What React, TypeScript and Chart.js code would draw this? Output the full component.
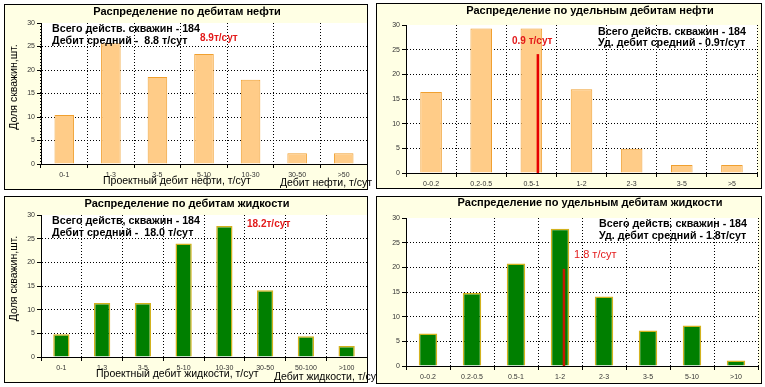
import React, { useEffect, useRef } from "react";
import { Chart, registerables } from "chart.js";

Chart.register(...registerables);

// ---------- data ----------
const oilCategories = ["0-1", "1-3", "3-5", "5-10", "10-30", "30-50", ">50"];
const oilValues = [10.4, 25.7, 18.5, 23.4, 17.9, 2.3, 2.3];

const oilSpecCategories = ["0-0.2", "0.2-0.5", "0.5-1", "1-2", "2-3", "3-5", ">5"];
const oilSpecValues = [16.4, 29.3, 29.3, 17.0, 4.9, 1.6, 1.6];

const liqCategories = ["0-1", "1-3", "3-5", "5-10", "10-30", "30-50", "50-100", ">100"];
const liqValues = [4.8, 11.4, 11.4, 24.0, 27.7, 14.1, 4.4, 2.3];

const liqSpecCategories = ["0-0.2", "0.2-0.5", "0.5-1", "1-2", "2-3", "3-5", "5-10", ">10"];
const liqSpecValues = [6.6, 14.8, 20.8, 27.8, 14.1, 7.2, 8.2, 1.1];

const yMin = 0;
const yMax = 30;
const yStep = 5;

// mean markers (red lines) for specific-rate charts
const oilSpecMeanCategory = "0.5-1";
const oilSpecMeanShift = 0.13; // fraction of a category to the right of the bar centre
const oilSpecMeanHeight = 24.1;
const liqSpecMeanCategory = "1-2";
const liqSpecMeanShift = 0.09;
const liqSpecMeanHeight = 19.7;

// ---------- texts ----------
const titleOil = "Распределение по дебитам нефти";
const titleOilSpec = "Распределение по удельным дебитам нефти";
const titleLiq = "Распределение по дебитам жидкости";
const titleLiqSpec = "Распределение по удельным дебитам жидкости";
const yTitle = "Доля скважин,шт.";
const wellsOil = "Всего действ. скважин - 184";
const wellsLiq = "Всего действ, скважин - 184";
const wellsLiqSpec = "Всего действ. скважин - 184";
const meanOil = "Дебит средний -  8.8 т/сут";
const meanOilRed = "8.9т/сут";
const meanOilSpec = "Уд. дебит средний - 0.9т/сут";
const meanOilSpecRed = "0.9 т/сут";
const meanLiq = "Дебит средний -  18.0 т/сут";
const meanLiqRed = "18.2т/сут";
const meanLiqSpec = "Уд. дебит средний - 1.8т/сут";
const meanLiqSpecRed = "1.8 т/сут";
const xTitleOilProj = "Проектный дебит нефти, т/сут";
const xTitleOil = "Дебит нефти, т/сут";
const xTitleLiqProj = "Проектный дебит жидкости, т/сут";
const xTitleLiq = "Дебит жидкости, т/сут";

// ---------- styling ----------
const FAMILY = '"Liberation Sans", Arial, sans-serif';
const PANEL_BG = "#FFFFE4";
const RED = "#E31A1A";
const ORANGE_FILL = "#FFCC88";
const ORANGE_BORDER = "#F0A030";
const GREEN_FILL = "#007F00";
const GREEN_BORDER = "#D2B21E";

type TextItem = {
  text: string;
  x: number;
  y: number;
  font: string;
  color?: string;
  align?: CanvasTextAlign;
  rotate?: boolean;
};

type Marker = { category: string; shift: number; height: number; color: string; width: number };

type PanelSpec = {
  left: number;
  top: number;
  width: number;
  height: number;
  frame: [number, number, number, number];
  plot: [number, number, number, number];
  categories: string[];
  values: number[];
  fill: string;
  border: string;
  borderWidth: number;
  barPct: number;
  marker?: Marker;
  texts: TextItem[];
  hideLastV: boolean;
};

const bold11 = `bold 11px ${FAMILY}`;
const boldNote = `bold 10.7px ${FAMILY}`;
const bold10 = `bold 10px ${FAMILY}`;
const reg = `10.5px ${FAMILY}`;

const panels: PanelSpec[] = [
  {
    left: 0, top: 0, width: 376, height: 194,
    frame: [4.5, 4.5, 367.5, 189.5],
    plot: [41, 23, 367, 164],
    categories: oilCategories, values: oilValues,
    fill: ORANGE_FILL, border: ORANGE_BORDER, borderWidth: 1, barPct: 0.42,
    hideLastV: true,
    texts: [
      { text: titleOil, x: 187, y: 11.5, font: bold11, align: "center" },
      { text: wellsOil, x: 52, y: 29, font: boldNote },
      { text: meanOil, x: 52, y: 41, font: boldNote },
      { text: meanOilRed, x: 200, y: 38.5, font: bold10, color: RED },
      { text: yTitle, x: 14, y: 87, font: reg, align: "center", rotate: true },
      { text: xTitleOilProj, x: 103, y: 181, font: reg },
      { text: xTitleOil, x: 280, y: 183, font: reg },
    ],
  },
  {
    left: 376, top: 0, width: 389, height: 194,
    frame: [0.5, 3.5, 385.5, 188.5],
    plot: [30, 25, 381, 173],
    categories: oilSpecCategories, values: oilSpecValues,
    fill: ORANGE_FILL, border: ORANGE_BORDER, borderWidth: 1, barPct: 0.43,
    hideLastV: true,
    marker: { category: oilSpecMeanCategory, shift: oilSpecMeanShift, height: oilSpecMeanHeight, color: "#E60000", width: 2.5 },
    texts: [
      { text: titleOilSpec, x: 214, y: 11, font: bold11, align: "center" },
      { text: wellsOil, x: 222, y: 32, font: boldNote },
      { text: meanOilSpec, x: 222, y: 43.5, font: boldNote },
      { text: meanOilSpecRed, x: 136, y: 41.5, font: bold10, color: RED },
    ],
  },
  {
    left: 0, top: 194, width: 376, height: 193,
    frame: [4.5, 2.5, 367.5, 188.5],
    plot: [41, 21, 367, 163],
    categories: liqCategories, values: liqValues,
    fill: GREEN_FILL, border: GREEN_BORDER, borderWidth: 1.5, barPct: 0.4,
    hideLastV: true,
    texts: [
      { text: titleLiq, x: 187, y: 9.5, font: bold11, align: "center" },
      { text: wellsLiq, x: 52, y: 27, font: boldNote },
      { text: meanLiq, x: 52, y: 39.5, font: boldNote },
      { text: meanLiqRed, x: 247, y: 30.5, font: bold10, color: RED },
      { text: yTitle, x: 14, y: 84.5, font: reg, align: "center", rotate: true },
      { text: xTitleLiqProj, x: 96, y: 180.5, font: reg },
      { text: xTitleLiq, x: 274, y: 183, font: reg },
    ],
  },
  {
    left: 376, top: 194, width: 389, height: 193,
    frame: [0.5, 2.5, 385.5, 189.5],
    plot: [30, 24, 382, 172],
    categories: liqSpecCategories, values: liqSpecValues,
    fill: GREEN_FILL, border: GREEN_BORDER, borderWidth: 1.5, barPct: 0.42,
    hideLastV: true,
    marker: { category: liqSpecMeanCategory, shift: liqSpecMeanShift, height: liqSpecMeanHeight, color: "#C41A00", width: 2.5 },
    texts: [
      { text: titleLiqSpec, x: 214, y: 9, font: bold11, align: "center" },
      { text: wellsLiqSpec, x: 223, y: 30, font: boldNote },
      { text: meanLiqSpec, x: 223, y: 42, font: boldNote },
      { text: meanLiqSpecRed, x: 198, y: 61, font: `11px ${FAMILY}`, color: RED },
    ],
  },
];

function makePanelPlugin(spec: PanelSpec) {
  return {
    id: "panelDeco",
    beforeDraw(chart: any) {
      const { ctx, chartArea } = chart;
      const [x1, y1, x2, y2] = spec.frame;
      ctx.save();
      ctx.fillStyle = PANEL_BG;
      ctx.fillRect(x1, y1, x2 - x1, y2 - y1);
      ctx.fillStyle = "#FFFFFF";
      ctx.fillRect(chartArea.left, chartArea.top, chartArea.right - chartArea.left, chartArea.bottom - chartArea.top);
      ctx.strokeStyle = "#000";
      ctx.lineWidth = 1;
      ctx.strokeRect(x1, y1, x2 - x1, y2 - y1);
      ctx.restore();
    },
    afterDatasetsDraw(chart: any) {
      const m = spec.marker;
      if (!m) return;
      const xs = chart.scales.x;
      const ys = chart.scales.y;
      const idx = spec.categories.indexOf(m.category);
      const catW = xs.getPixelForValue(1) - xs.getPixelForValue(0);
      const x = xs.getPixelForValue(idx) + m.shift * catW;
      const ctx = chart.ctx;
      ctx.save();
      ctx.strokeStyle = m.color;
      ctx.lineWidth = m.width;
      ctx.beginPath();
      ctx.moveTo(x, ys.getPixelForValue(0));
      ctx.lineTo(x, ys.getPixelForValue(m.height));
      ctx.stroke();
      ctx.restore();
    },
    afterDraw(chart: any) {
      const ctx = chart.ctx;
      ctx.save();
      for (const t of spec.texts) {
        ctx.font = t.font;
        ctx.fillStyle = t.color || "#000";
        ctx.textAlign = t.align || "left";
        ctx.textBaseline = "middle";
        if (t.rotate) {
          ctx.save();
          ctx.translate(t.x, t.y);
          ctx.rotate(-Math.PI / 2);
          ctx.fillText(t.text, 0, 0);
          ctx.restore();
        } else {
          ctx.fillText(t.text, t.x, t.y);
        }
      }
      ctx.restore();
    },
  };
}

function Panel({ spec }: { spec: PanelSpec }) {
  const ref = useRef<HTMLCanvasElement>(null);
  useEffect(() => {
    const [pl, pt, pr, pb] = spec.plot;
    const xH = 20;
    const n = spec.categories.length;
    const chart = new Chart(ref.current as HTMLCanvasElement, {
      type: "bar",
      data: {
        labels: spec.categories,
        datasets: [
          {
            data: spec.values,
            backgroundColor: spec.fill,
            borderColor: spec.border,
            borderWidth: spec.borderWidth,
            barPercentage: spec.barPct,
            categoryPercentage: 1,
          },
        ],
      },
      options: {
        responsive: false,
        animation: false,
        devicePixelRatio: 1,
        layout: { padding: { left: 0, top: pt, right: spec.width - pr, bottom: spec.height - pb - xH } },
        plugins: { legend: { display: false }, tooltip: { enabled: false }, title: { display: false } },
        scales: {
          x: {
            offset: true,
            grid: {
              offset: true,
              color: (c: any) => (c.index === n && spec.hideLastV ? "rgba(0,0,0,0)" : "#000"),
              lineWidth: 1,
              tickLength: 4,
              tickColor: "#000",
              tickBorderDash: [],
            },
            border: { display: true, color: "#000", width: 1, dash: [1, 2] },
            ticks: { font: { size: 7, family: FAMILY }, color: "#333", padding: 3, autoSkip: false, maxRotation: 0 },
            afterFit: (s: any) => {
              s.height = xH;
            },
          },
          y: {
            min: yMin,
            max: yMax,
            grid: {
              color: (c: any) => (c.tick && (c.tick.value === yMin || c.tick.value === yMax) ? "rgba(0,0,0,0)" : "#000"),
              lineWidth: 1,
              tickLength: 4,
              tickColor: "#000",
              tickBorderDash: [],
            },
            border: { display: true, color: "#000", width: 1, dash: [1, 2] },
            ticks: { stepSize: yStep, font: { size: 7, family: FAMILY }, color: "#333", padding: 2 },
            afterFit: (s: any) => {
              s.width = pl;
            },
          },
        },
      } as any,
      plugins: [makePanelPlugin(spec)],
    });
    return () => chart.destroy();
  }, [spec]);
  return (
    <canvas
      ref={ref}
      width={spec.width}
      height={spec.height}
      style={{ position: "absolute", left: spec.left, top: spec.top, width: spec.width, height: spec.height }}
    />
  );
}

export default function App() {
  return (
    <div style={{ position: "fixed", left: 0, top: 0, width: 765, height: 387, background: "#fff", overflow: "hidden" }}>
      {panels.map((p, i) => (
        <Panel key={i} spec={p} />
      ))}
    </div>
  );
}
